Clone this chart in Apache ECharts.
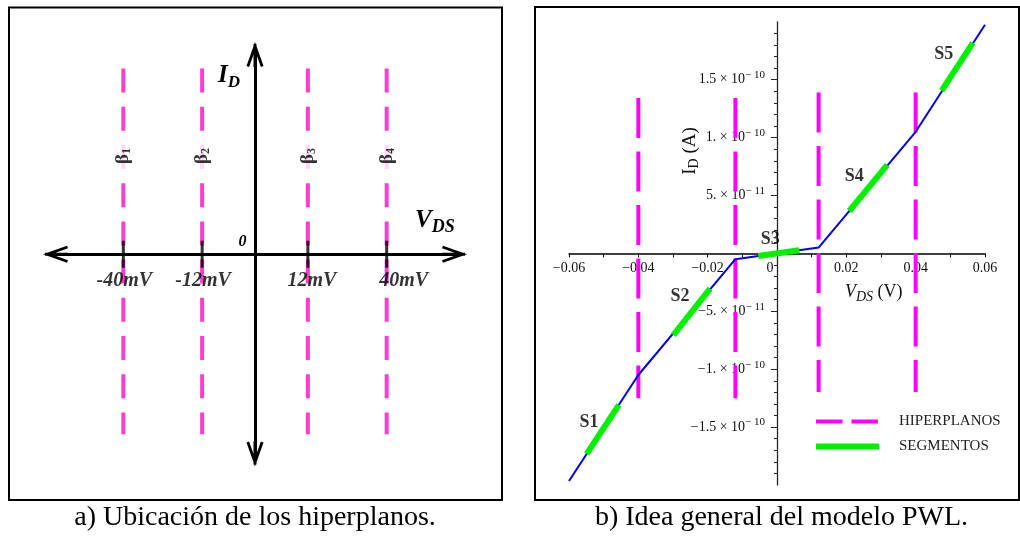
<!DOCTYPE html>
<html>
<head>
<meta charset="utf-8">
<script src="https://cdn.jsdelivr.net/npm/echarts@6/dist/echarts.min.js"></script>
<style>
  html, body { margin: 0; padding: 0; background: #fff; }
  #chart { width: 1020px; height: 537px; }
</style>
</head>
<body>
<div id="chart"></div>
<script>
// ---- Panel a: where the hyperplanes sit (schematic, not to scale) ----
const hyperLabels = ['-40mV', '-12mV', '12mV', '40mV'];
const hyperIndex = ['1', '2', '3', '4'];
const hyperSchematicPos = [-0.66, -0.265, 0.265, 0.66];

// ---- Panel b: piecewise-linear I_D(V_DS) model ----
const vdsBreaks = [-0.06, -0.04, -0.012, 0.012, 0.04, 0.06];
const idPwl = [-1.965e-10, -1.05e-10, -5e-12, 5e-12, 1.05e-10, 1.975e-10];

const hyperplanesV = [-0.04, -0.012, 0.012, 0.04];
const hyperTopI = [1.342e-10, 1.342e-10, 1.39e-10, 1.39e-10];
const hyperBottomI = [-1.251e-10, -1.251e-10, -1.197e-10, -1.197e-10];

const segNames = ['S1', 'S2', 'S3', 'S4', 'S5'];
const segStartV = [-0.0549, -0.0299, -0.0054, 0.02085, 0.0475];
const segStartI = [-1.732e-10, -7.05e-11, -2.2e-12, 3.66e-11, 1.405e-10];
const segEndV = [-0.0456, -0.0193, 0.0064, 0.0318, 0.0565];
const segEndI = [-1.308e-10, -3.05e-11, 2.8e-12, 7.65e-11, 1.818e-10];

const xTickValues = [-0.06, -0.04, -0.02, 0, 0.02, 0.04, 0.06];
const xTickLabels = ['\u22120.06', '\u22120.04', '\u22120.02', '0', '0.02', '0.04', '0.06'];
const yTickValues = [-1.5e-10, -1e-10, -5e-11, 5e-11, 1e-10, 1.5e-10];
const yTickMantissa = ['\u22121.5', '\u22121.', '\u22125.', '5.', '1.', '1.5'];
const yTickExponent = ['\u2212 10', '\u2212 10', '\u2212 11', '\u2212 11', '\u2212 10', '\u2212 10'];

// ---- styling ----
const SERIF = '"Liberation Serif", "Times New Roman", serif';
const PINK = '#ff3dcc';
const MAGENTA = '#ff00ff';
const BLUE = '#0000ee';
const GREEN = '#00f000';
// open arrow head with a short shaft, drawn pointing up
const chevron = 'path://M8.5 0 L17 24 L14.4 25 L8.5 8.3 L2.6 25 L0 24 Z M7 2 L10 2 L10 25 L7 25 Z';
const mvLabelShift = [1, 1, 4, 17];
const segLabelOffset = [[-30, 17], [-30, 8], [-29, -11], [-33, 12], [-29, 11]];
const dashTop = 0.93, dashBottom = -0.901, betaLevel = 0.492;

// plot-area geometry of panel b (shared by the data grid and the two axis grids)
const B_LEFT = 569, B_RIGHT = 35, B_TOP = 21.8, B_BOTTOM = 52;
const B_ZERO_X = 777, B_ZERO_Y = 253.4;

function findIndex(arr, v, tol) {
  for (let i = 0; i < arr.length; i++) if (Math.abs(arr[i] - v) < tol) return i;
  return -1;
}

const series = [];

// panel a: dashed hyperplanes
hyperSchematicPos.forEach(function (p) {
  series.push({
    type: 'line', xAxisIndex: 0, yAxisIndex: 0, silent: true, z: 2,
    symbol: 'none', showSymbol: false,
    lineStyle: { color: PINK, width: 4, type: [24, 14.2] },
    data: [[p, dashTop], [p, dashBottom]]
  });
});
// panel a: tick marks with the voltage labels
series.push({
  type: 'scatter', xAxisIndex: 0, yAxisIndex: 0, silent: true, z: 4,
  symbol: 'rect', symbolSize: [3, 27],
  itemStyle: { color: '#000' },
  label: {
    show: true, position: 'bottom', distance: 3,
    formatter: function (p) { return hyperLabels[p.dataIndex]; },
    fontFamily: SERIF, fontSize: 20, fontWeight: 'bold', fontStyle: 'italic', color: '#000'
  },
  data: hyperSchematicPos.map(function (p, i) {
    return { value: [p, 0], label: { offset: [mvLabelShift[i], 0] } };
  })
});
// panel a: beta labels
series.push({
  type: 'scatter', xAxisIndex: 0, yAxisIndex: 0, silent: true, z: 5,
  symbol: 'circle', symbolSize: 1, itemStyle: { color: 'rgba(0,0,0,0)' },
  label: {
    show: true, position: 'inside', rotate: 90,
    backgroundColor: '#fff', padding: [4, 9],
    formatter: function (p) { return '{b|\u03b2}{s|' + hyperIndex[p.dataIndex] + '}'; },
    rich: {
      b: { fontFamily: SERIF, fontSize: 19, fontWeight: 'bold', color: '#000', lineHeight: 20 },
      s: { fontFamily: SERIF, fontSize: 12, fontWeight: 'bold', color: '#000', lineHeight: 13, padding: [8, 0, 0, 0] }
    }
  },
  data: hyperSchematicPos.map(function (p) { return [p, betaLevel]; })
});

// panel b: hyperplanes
hyperplanesV.forEach(function (v, i) {
  series.push({
    name: 'HIPERPLANOS', type: 'line', xAxisIndex: 1, yAxisIndex: 1, silent: true, z: 2,
    symbol: 'none', showSymbol: false,
    lineStyle: { color: MAGENTA, width: 4, type: [40, 13.5] },
    itemStyle: { color: MAGENTA },
    data: [[v, hyperTopI[i]], [v, hyperBottomI[i]]]
  });
});
// panel b: PWL characteristic
series.push({
  name: 'PWL', type: 'line', xAxisIndex: 1, yAxisIndex: 1, silent: true, z: 3,
  symbol: 'none', showSymbol: false,
  lineStyle: { color: BLUE, width: 2 },
  itemStyle: { color: BLUE },
  data: vdsBreaks.map(function (v, i) { return [v, idPwl[i]]; })
});
// panel b: highlighted segments
segNames.forEach(function (n, i) {
  series.push({
    name: 'SEGMENTOS', type: 'line', xAxisIndex: 1, yAxisIndex: 1, silent: true, z: 4,
    symbol: 'none', showSymbol: false,
    lineStyle: { color: GREEN, width: 6, cap: 'butt' },
    itemStyle: { color: GREEN },
    data: [[segStartV[i], segStartI[i]], [segEndV[i], segEndI[i]]]
  });
});
// panel b: segment names
series.push({
  type: 'scatter', xAxisIndex: 1, yAxisIndex: 1, silent: true, z: 6,
  symbol: 'circle', symbolSize: 1, itemStyle: { color: 'rgba(0,0,0,0)' },
  label: {
    show: true, position: 'inside',
    formatter: function (p) { return segNames[p.dataIndex]; },
    fontFamily: SERIF, fontSize: 18, fontWeight: 'bold', color: '#000'
  },
  data: segEndV.map(function (v, i) {
    return { value: [v, segEndI[i]], label: { offset: segLabelOffset[i] } };
  })
});

const hiddenAxis = { show: false, axisLine: { onZero: false }, splitLine: { show: false } };

const option = {
  animation: false,
  backgroundColor: '#fff',
  textStyle: { fontFamily: SERIF },
  grid: [
    // panel a
    { left: 55.5, top: 54.6, width: 399, height: 399.3, outerBoundsMode: 'none', containLabel: false },
    // panel b data area
    { left: B_LEFT, right: B_RIGHT, top: B_TOP, bottom: B_BOTTOM, outerBoundsMode: 'none', containLabel: false },
    // panel b horizontal axis, whose bottom edge is I_D = 0
    { left: B_LEFT, right: B_RIGHT, top: B_TOP, height: B_ZERO_Y - B_TOP, outerBoundsMode: 'none', containLabel: false },
    // panel b vertical axis, whose left edge is V_DS = 0
    { left: B_ZERO_X, right: B_RIGHT, top: B_TOP, bottom: B_BOTTOM, outerBoundsMode: 'none', containLabel: false }
  ],
  xAxis: [
    {
      gridIndex: 0, type: 'value', min: -1, max: 1,
      axisLine: { onZero: true, symbol: [chevron, chevron], symbolSize: [17, 25],
        lineStyle: { color: '#000', width: 3 } },
      axisTick: { show: false }, axisLabel: { show: false }, splitLine: { show: false }
    },
    Object.assign({ gridIndex: 1, type: 'value', min: -0.06, max: 0.06 }, hiddenAxis),
    {
      gridIndex: 2, type: 'value', position: 'bottom', min: -0.06, max: 0.06, interval: 0.02,
      axisLine: { show: true, onZero: false, lineStyle: { color: '#000', width: 1.5 } },
      axisTick: { show: true, inside: false, length: 4, lineStyle: { color: '#000', width: 1 } },
      minorTick: { show: true, splitNumber: 2, length: 4, lineStyle: { color: '#000', width: 1 } },
      splitLine: { show: false },
      axisLabel: {
        margin: 8, color: '#111', fontFamily: SERIF, fontSize: 14,
        hideOverlap: false, showMinLabel: true, showMaxLabel: true,
        formatter: function (v) {
          const k = findIndex(xTickValues, v, 1e-6);
          if (k < 0) return '';
          return xTickValues[k] === 0 ? '{z|' + xTickLabels[k] + '}' : xTickLabels[k];
        },
        rich: { z: { fontFamily: SERIF, fontSize: 14, color: '#111', padding: [0, 14, 0, 0] } }
      }
    },
    Object.assign({ gridIndex: 3, type: 'value', min: 0, max: 1 }, hiddenAxis)
  ],
  yAxis: [
    {
      gridIndex: 0, type: 'value', min: -1, max: 1,
      axisLine: { onZero: true, symbol: [chevron, chevron], symbolSize: [17, 25],
        lineStyle: { color: '#000', width: 3 } },
      axisTick: { show: false }, axisLabel: { show: false }, splitLine: { show: false }
    },
    Object.assign({ gridIndex: 1, type: 'value', min: -2e-10, max: 2e-10 }, hiddenAxis),
    Object.assign({ gridIndex: 2, type: 'value', min: 0, max: 1 }, hiddenAxis),
    {
      gridIndex: 3, type: 'value', position: 'left', min: -2e-10, max: 2e-10, interval: 5e-11,
      axisLine: { show: true, onZero: false, lineStyle: { color: '#222', width: 1.3 } },
      axisTick: { show: true, inside: false, length: 6, customValues: yTickValues,
        lineStyle: { color: '#222', width: 1 } },
      minorTick: { show: true, splitNumber: 5, length: 3, lineStyle: { color: '#222', width: 1 } },
      splitLine: { show: false },
      axisLabel: {
        margin: 12, color: '#111', fontFamily: SERIF, fontSize: 14,
        customValues: yTickValues, hideOverlap: false,
        formatter: function (v) {
          const k = findIndex(yTickValues, v, 1e-13);
          if (k < 0) return '';
          return '{m|' + yTickMantissa[k] + ' \u00d7 10}{e|' + yTickExponent[k] + '}';
        },
        rich: {
          m: { fontFamily: SERIF, fontSize: 14, color: '#111', lineHeight: 16 },
          e: { fontFamily: SERIF, fontSize: 11, color: '#111', lineHeight: 12, padding: [0, 0, 9, 0] }
        }
      }
    }
  ],
  legend: {
    show: true, orient: 'vertical', left: 813, top: 414, padding: 0,
    itemGap: 10, itemWidth: 63, itemHeight: 14, selectedMode: false,
    itemStyle: { opacity: 0 },
    textStyle: { fontFamily: SERIF, fontSize: 15, color: '#222', padding: [0, 0, 0, 15] },
    data: [
      { name: 'HIPERPLANOS', lineStyle: { type: [26.5, 9], width: 4, color: MAGENTA } },
      { name: 'SEGMENTOS', lineStyle: { type: 'solid', width: 6, color: GREEN } }
    ]
  },
  graphic: [
    // frames
    { type: 'rect', silent: true, shape: { x: 9, y: 7.5, width: 493, height: 492.5 },
      style: { fill: 'none', stroke: '#000', lineWidth: 2 } },
    { type: 'rect', silent: true, shape: { x: 535, y: 7, width: 484, height: 493 },
      style: { fill: 'none', stroke: '#000', lineWidth: 2 } },
    // captions
    { type: 'text', silent: true, x: 255, y: 518,
      style: { text: 'a) Ubicación de los hiperplanos.', font: '28px ' + SERIF, fill: '#000',
        align: 'center', verticalAlign: 'middle' } },
    { type: 'text', silent: true, x: 781.5, y: 518,
      style: { text: 'b) Idea general del modelo PWL.', font: '28px ' + SERIF, fill: '#000',
        align: 'center', verticalAlign: 'middle' } },
    // panel a axis titles
    { type: 'text', silent: true, x: 218, y: 75.4,
      style: { text: '{i|I}{d|D}', align: 'left', verticalAlign: 'middle',
        rich: {
          i: { fontFamily: SERIF, fontSize: 25, fontWeight: 'bold', fontStyle: 'italic', fill: '#000', lineHeight: 26 },
          d: { fontFamily: SERIF, fontSize: 17, fontWeight: 'bold', fontStyle: 'italic', fill: '#000', lineHeight: 18, padding: [14, 0, 0, 0] }
        } } },
    { type: 'text', silent: true, x: 415, y: 220.5,
      style: { text: '{v|V}{d|DS}', align: 'left', verticalAlign: 'middle',
        rich: {
          v: { fontFamily: SERIF, fontSize: 25, fontWeight: 'bold', fontStyle: 'italic', fill: '#000', lineHeight: 26 },
          d: { fontFamily: SERIF, fontSize: 18, fontWeight: 'bold', fontStyle: 'italic', fill: '#000', lineHeight: 18, padding: [14, 0, 0, 0] }
        } } },
    { type: 'text', silent: true, x: 242.5, y: 241.5,
      style: { text: '0', font: 'italic bold 16px ' + SERIF, fill: '#000', align: 'center', verticalAlign: 'middle' } },
    // panel b axis titles
    { type: 'text', silent: true, x: 845, y: 292,
      style: { text: '{v|V}{d|DS}{n| (V)}', align: 'left', verticalAlign: 'middle',
        rich: {
          v: { fontFamily: SERIF, fontSize: 18, fontStyle: 'italic', fill: '#111', lineHeight: 18 },
          d: { fontFamily: SERIF, fontSize: 14, fontStyle: 'italic', fill: '#111', lineHeight: 15, padding: [11, 0, 0, 0] },
          n: { fontFamily: SERIF, fontSize: 18, fill: '#111', lineHeight: 18 }
        } } },
    { type: 'text', silent: true, x: 690, y: 151, rotation: Math.PI / 2,
      style: { text: '{i|I}{d|D}{n| (A)}', align: 'center', verticalAlign: 'middle',
        rich: {
          i: { fontFamily: SERIF, fontSize: 19, fill: '#111', lineHeight: 19 },
          d: { fontFamily: SERIF, fontSize: 14, fill: '#111', lineHeight: 15, padding: [8, 0, 0, 0] },
          n: { fontFamily: SERIF, fontSize: 19, fill: '#111', lineHeight: 19 }
        } } }
  ],
  series: series
};

const chart = echarts.init(document.getElementById('chart'), null, { renderer: 'canvas', width: 1020, height: 537 });
chart.setOption(option);
</script>
</body>
</html>
